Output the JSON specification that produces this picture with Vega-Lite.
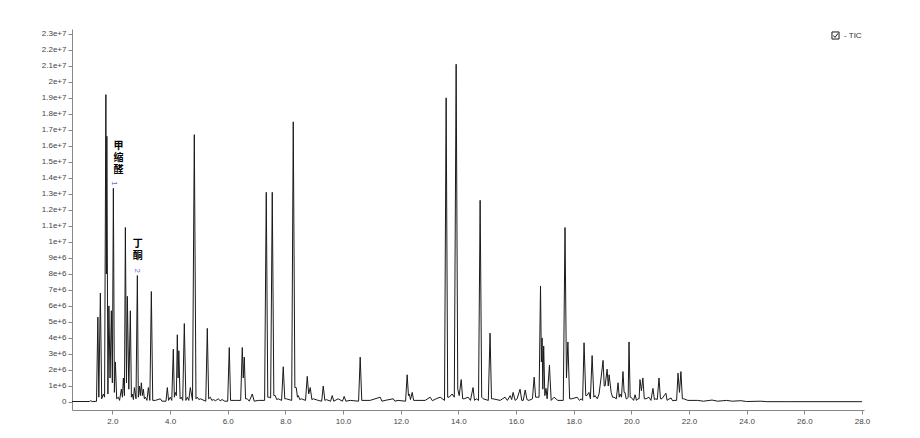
{
  "$schema": "https://vega.github.io/schema/vega-lite/v6.json",
  "width": 792,
  "height": 381,
  "autosize": {"type": "none"},
  "padding": {"left": 72, "top": 29, "right": 56, "bottom": 28},
  "background": "white",
  "config": {
    "view": {"stroke": null},
    "axis": {"grid": false, "title": null, "labelFont": "Liberation Sans", "labelFontSize": 8, "labelColor": "#444", "domainColor": "#888", "tickColor": "#888"}
  },
  "datasets": {
    "tic": [
      {"t":0.6,"v":30000},{"t":1.2,"v":30000},{"t":1.25,"v":80000},{"t":1.3,"v":30000},{"t":1.45,"v":40000},
      {"t":1.497,"v":5300000},{"t":1.53,"v":300000},{"t":1.584,"v":6800000},{"t":1.63,"v":200000},{"t":1.688,"v":500000},
      {"t":1.73,"v":300000},{"t":1.775,"v":19200000},{"t":1.792,"v":8000000},{"t":1.809,"v":16600000},{"t":1.845,"v":500000},
      {"t":1.879,"v":6000000},{"t":1.92,"v":1500000},{"t":1.965,"v":5700000},{"t":2.0,"v":1200000},{"t":2.035,"v":13350000},
      {"t":2.07,"v":600000},{"t":2.104,"v":2500000},{"t":2.15,"v":200000},{"t":2.208,"v":300000},{"t":2.25,"v":100000},
      {"t":2.312,"v":800000},{"t":2.35,"v":300000},{"t":2.381,"v":1500000},{"t":2.42,"v":400000},{"t":2.451,"v":10900000},
      {"t":2.49,"v":1200000},{"t":2.52,"v":6600000},{"t":2.57,"v":800000},{"t":2.624,"v":5700000},{"t":2.66,"v":300000},
      {"t":2.693,"v":500000},{"t":2.73,"v":150000},{"t":2.763,"v":900000},{"t":2.82,"v":200000},{"t":2.867,"v":7900000},
      {"t":2.9,"v":300000},{"t":2.936,"v":1000000},{"t":2.97,"v":400000},{"t":3.005,"v":1200000},{"t":3.04,"v":400000},
      {"t":3.075,"v":800000},{"t":3.11,"v":200000},{"t":3.144,"v":300000},{"t":3.2,"v":100000},{"t":3.248,"v":900000},
      {"t":3.3,"v":100000},{"t":3.352,"v":6900000},{"t":3.4,"v":100000},{"t":3.49,"v":100000},{"t":3.664,"v":200000},
      {"t":3.72,"v":50000},{"t":3.86,"v":50000},{"t":3.906,"v":900000},{"t":3.95,"v":100000},{"t":4.01,"v":300000},
      {"t":4.06,"v":100000},{"t":4.114,"v":3300000},{"t":4.15,"v":300000},{"t":4.18,"v":600000},{"t":4.22,"v":400000},
      {"t":4.253,"v":4200000},{"t":4.28,"v":1500000},{"t":4.305,"v":3200000},{"t":4.35,"v":200000},{"t":4.39,"v":300000},
      {"t":4.44,"v":100000},{"t":4.496,"v":4900000},{"t":4.55,"v":100000},{"t":4.6,"v":300000},{"t":4.65,"v":100000},
      {"t":4.704,"v":900000},{"t":4.78,"v":100000},{"t":4.842,"v":16700000},{"t":4.9,"v":200000},{"t":4.946,"v":300000},
      {"t":5.0,"v":150000},{"t":5.05,"v":200000},{"t":5.24,"v":50000},{"t":5.293,"v":4600000},{"t":5.34,"v":200000},
      {"t":5.397,"v":300000},{"t":5.45,"v":100000},{"t":5.5,"v":150000},{"t":5.58,"v":80000},{"t":5.67,"v":200000},
      {"t":5.74,"v":80000},{"t":5.81,"v":150000},{"t":5.9,"v":50000},{"t":6.0,"v":50000},{"t":6.055,"v":3400000},
      {"t":6.1,"v":100000},{"t":6.26,"v":100000},{"t":6.45,"v":100000},{"t":6.506,"v":3400000},{"t":6.54,"v":1500000},
      {"t":6.575,"v":2800000},{"t":6.62,"v":200000},{"t":6.68,"v":200000},{"t":6.75,"v":50000},{"t":6.853,"v":500000},
      {"t":6.92,"v":50000},{"t":7.06,"v":100000},{"t":7.28,"v":100000},{"t":7.338,"v":13100000},{"t":7.39,"v":300000},
      {"t":7.44,"v":300000},{"t":7.49,"v":250000},{"t":7.546,"v":13100000},{"t":7.6,"v":400000},{"t":7.65,"v":400000},
      {"t":7.7,"v":150000},{"t":7.754,"v":200000},{"t":7.87,"v":100000},{"t":7.927,"v":2200000},{"t":7.98,"v":200000},
      {"t":8.03,"v":200000},{"t":8.22,"v":100000},{"t":8.274,"v":17500000},{"t":8.33,"v":900000},{"t":8.378,"v":900000},
      {"t":8.42,"v":300000},{"t":8.45,"v":400000},{"t":8.5,"v":150000},{"t":8.55,"v":200000},{"t":8.7,"v":100000},
      {"t":8.759,"v":1600000},{"t":8.81,"v":500000},{"t":8.863,"v":900000},{"t":8.92,"v":150000},{"t":8.97,"v":200000},
      {"t":9.14,"v":100000},{"t":9.26,"v":50000},{"t":9.314,"v":1000000},{"t":9.37,"v":100000},{"t":9.42,"v":150000},
      {"t":9.57,"v":50000},{"t":9.626,"v":400000},{"t":9.68,"v":50000},{"t":9.83,"v":200000},{"t":9.98,"v":50000},
      {"t":10.04,"v":350000},{"t":10.1,"v":50000},{"t":10.25,"v":100000},{"t":10.54,"v":50000},{"t":10.596,"v":2800000},
      {"t":10.65,"v":100000},{"t":10.94,"v":100000},{"t":11.29,"v":300000},{"t":11.35,"v":50000},{"t":11.46,"v":100000},
      {"t":11.74,"v":200000},{"t":11.8,"v":50000},{"t":11.91,"v":100000},{"t":12.17,"v":50000},{"t":12.225,"v":1700000},
      {"t":12.27,"v":400000},{"t":12.3,"v":500000},{"t":12.34,"v":150000},{"t":12.4,"v":600000},{"t":12.45,"v":100000},
      {"t":12.5,"v":100000},{"t":12.85,"v":100000},{"t":13.02,"v":300000},{"t":13.1,"v":80000},{"t":13.23,"v":200000},
      {"t":13.37,"v":300000},{"t":13.52,"v":100000},{"t":13.577,"v":19000000},{"t":13.63,"v":300000},{"t":13.68,"v":300000},
      {"t":13.785,"v":500000},{"t":13.86,"v":300000},{"t":13.924,"v":21100000},{"t":13.98,"v":800000},{"t":14.03,"v":400000},
      {"t":14.1,"v":1400000},{"t":14.15,"v":200000},{"t":14.2,"v":200000},{"t":14.34,"v":300000},{"t":14.42,"v":100000},
      {"t":14.51,"v":900000},{"t":14.56,"v":100000},{"t":14.62,"v":200000},{"t":14.7,"v":100000},{"t":14.756,"v":12600000},
      {"t":14.81,"v":300000},{"t":14.86,"v":200000},{"t":15.04,"v":100000},{"t":15.1,"v":4300000},{"t":15.15,"v":200000},
      {"t":15.2,"v":200000},{"t":15.45,"v":100000},{"t":15.62,"v":300000},{"t":15.7,"v":100000},{"t":15.8,"v":400000},
      {"t":15.85,"v":150000},{"t":15.9,"v":600000},{"t":15.97,"v":100000},{"t":16.04,"v":200000},{"t":16.14,"v":800000},
      {"t":16.2,"v":100000},{"t":16.25,"v":100000},{"t":16.32,"v":750000},{"t":16.38,"v":150000},{"t":16.45,"v":100000},
      {"t":16.57,"v":200000},{"t":16.63,"v":1550000},{"t":16.68,"v":300000},{"t":16.73,"v":300000},{"t":16.8,"v":300000},
      {"t":16.85,"v":7250000},{"t":16.88,"v":2500000},{"t":16.905,"v":4000000},{"t":16.93,"v":800000},{"t":16.96,"v":3500000},
      {"t":17.0,"v":400000},{"t":17.04,"v":850000},{"t":17.08,"v":200000},{"t":17.16,"v":2300000},{"t":17.22,"v":100000},
      {"t":17.32,"v":300000},{"t":17.45,"v":100000},{"t":17.64,"v":100000},{"t":17.7,"v":10900000},{"t":17.75,"v":1500000},
      {"t":17.8,"v":3750000},{"t":17.86,"v":200000},{"t":17.94,"v":200000},{"t":18.12,"v":300000},{"t":18.2,"v":100000},
      {"t":18.26,"v":200000},{"t":18.31,"v":100000},{"t":18.36,"v":3700000},{"t":18.42,"v":400000},{"t":18.46,"v":400000},
      {"t":18.53,"v":600000},{"t":18.58,"v":200000},{"t":18.64,"v":2900000},{"t":18.7,"v":300000},{"t":18.74,"v":400000},
      {"t":18.82,"v":200000},{"t":18.88,"v":500000},{"t":18.95,"v":1500000},{"t":19.02,"v":2600000},{"t":19.06,"v":1000000},
      {"t":19.09,"v":1000000},{"t":19.16,"v":2050000},{"t":19.2,"v":1000000},{"t":19.23,"v":1700000},{"t":19.3,"v":600000},
      {"t":19.35,"v":300000},{"t":19.4,"v":300000},{"t":19.48,"v":200000},{"t":19.54,"v":1200000},{"t":19.58,"v":300000},
      {"t":19.61,"v":500000},{"t":19.66,"v":300000},{"t":19.71,"v":1900000},{"t":19.75,"v":600000},{"t":19.78,"v":600000},
      {"t":19.82,"v":200000},{"t":19.85,"v":200000},{"t":19.89,"v":300000},{"t":19.92,"v":3750000},{"t":19.96,"v":300000},
      {"t":19.99,"v":300000},{"t":20.08,"v":100000},{"t":20.13,"v":450000},{"t":20.18,"v":100000},{"t":20.23,"v":200000},
      {"t":20.27,"v":200000},{"t":20.3,"v":1400000},{"t":20.35,"v":700000},{"t":20.4,"v":1500000},{"t":20.45,"v":200000},
      {"t":20.51,"v":200000},{"t":20.61,"v":300000},{"t":20.68,"v":100000},{"t":20.75,"v":850000},{"t":20.8,"v":150000},
      {"t":20.85,"v":200000},{"t":20.9,"v":150000},{"t":20.96,"v":1500000},{"t":21.01,"v":200000},{"t":21.06,"v":200000},
      {"t":21.2,"v":550000},{"t":21.24,"v":100000},{"t":21.27,"v":150000},{"t":21.38,"v":250000},{"t":21.43,"v":80000},
      {"t":21.48,"v":100000},{"t":21.57,"v":100000},{"t":21.62,"v":1800000},{"t":21.67,"v":600000},{"t":21.72,"v":1900000},
      {"t":21.77,"v":200000},{"t":21.82,"v":200000},{"t":21.96,"v":100000},{"t":22.3,"v":100000},{"t":22.5,"v":50000},
      {"t":22.8,"v":120000},{"t":23.0,"v":50000},{"t":23.3,"v":100000},{"t":23.5,"v":50000},{"t":23.8,"v":80000},
      {"t":24.0,"v":30000},{"t":24.5,"v":50000},{"t":24.7,"v":20000},{"t":25.5,"v":20000},{"t":28.0,"v":20000}
    ],
    "labels": [
      {"t": 2.21, "v": 16300000, "text": "甲\n缩\n醛"},
      {"t": 2.88, "v": 10200000, "text": "丁\n酮"}
    ],
    "markers": [
      {"t": 2.04, "v": 13650000, "text": "1"},
      {"t": 2.87, "v": 8200000, "text": "2"}
    ]
  },
  "encoding": {
    "x": {"field": "t", "type": "quantitative", "scale": {"domain": [0.6, 28.07], "nice": false, "zero": false},
          "axis": {"orient": "bottom", "labelOverlap": false, "labelFlush": false,
                   "values": [2,4,6,8,10,12,14,16,18,20,22,24,26,28],
                   "format": ".1f", "tickSize": 4, "labelPadding": 3}},
    "y": {"field": "v", "type": "quantitative", "scale": {"domain": [-500000, 23300000], "nice": false, "zero": false},
          "axis": {"orient": "left", "labelOverlap": false, "labelFlush": false,
                   "values": [0,1000000,2000000,3000000,4000000,5000000,6000000,7000000,8000000,9000000,10000000,11000000,12000000,13000000,14000000,15000000,16000000,17000000,18000000,19000000,20000000,21000000,22000000,23000000],
                   "format": ",", "tickSize": 4, "labelPadding": 2}}
  },
  "layer": [
    {
      "data": {"name": "tic"},
      "mark": {"type": "line", "strokeWidth": 1},
      "encoding": {
        "color": {"datum": "TIC", "scale": {"range": ["#1a1a1a"]},
                  "legend": {"orient": "top-right", "offset": 2, "title": null, "labelExpr": "'- TIC'", "labelFont": "Liberation Sans", "labelFontSize": 8, "labelColor": "#333",
                             "symbolType": "M-1,-1H1V1H-1Z M-0.6,0L-0.15,0.55L0.7,-0.6", "symbolSize": 50, "symbolStrokeColor": "#555", "symbolFillColor": "white", "symbolStrokeWidth": 1}}
      }
    },
    {
      "data": {"name": "labels"},
      "mark": {"type": "text", "font": "Noto Sans CJK SC", "fontSize": 10, "fontWeight": "bold", "lineBreak": "\n", "lineHeight": 12, "baseline": "top", "align": "center", "color": "#000"},
      "encoding": {
        "text": {"field": "text"}
      }
    },
    {
      "data": {"name": "markers"},
      "mark": {"type": "text", "font": "Liberation Sans", "fontSize": 8, "angle": 90, "baseline": "middle", "align": "center", "color": "#6a6ad8"},
      "encoding": {
        "text": {"field": "text"}
      }
    }
  ]
}
